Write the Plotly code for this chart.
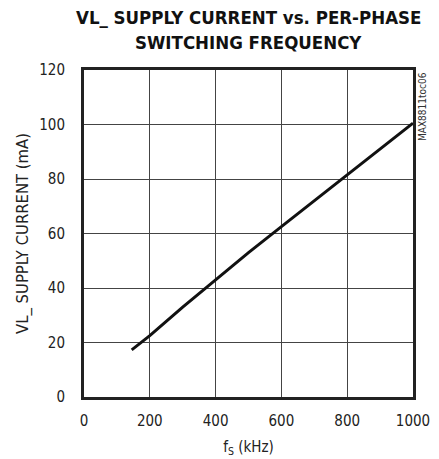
import plotly.graph_objects as go

freq_khz = [145, 200, 300, 400, 500, 600, 700, 800, 900, 1000]
current_ma = [17.3, 22.5, 33.0, 43.0, 53.0, 62.5, 72.0, 81.5, 91.0, 100.5]

x_ticks = [0, 200, 400, 600, 800, 1000]
y_ticks = [0, 20, 40, 60, 80, 100, 120]

title_lines = ["VL_ SUPPLY CURRENT vs. PER-PHASE", "SWITCHING FREQUENCY"]

FONT = "Liberation Sans Narrow, DejaVu Sans Condensed, Arial Narrow, sans-serif"

fig = go.Figure()
fig.add_trace(go.Scatter(x=freq_khz, y=current_ma, mode="lines",
                         line=dict(color="#111111", width=3), showlegend=False))

fig.update_layout(
    width=439, height=459,
    margin=dict(l=84, r=26, t=70, b=62, autoexpand=False),
    paper_bgcolor="white", plot_bgcolor="white",
    font=dict(family=FONT, color="#222222", size=15),
    xaxis=dict(range=[0, 1000], tickvals=x_ticks, ticks="", showgrid=True,
               gridcolor="#444444", gridwidth=1, zeroline=False, automargin=False,
               ticklabelstandoff=8,
               showline=True, linecolor="#222222", linewidth=3, mirror=True,
               title=dict(text="f<sub>S</sub> (kHz)", standoff=13, font=dict(size=15))),
    yaxis=dict(range=[0, 120], tickvals=y_ticks, ticks="", showgrid=True,
               gridcolor="#444444", gridwidth=1, zeroline=False, automargin=False,
               ticklabelstandoff=13,
               showline=True, linecolor="#222222", linewidth=3, mirror=True,
               title=dict(text="VL_ SUPPLY CURRENT (mA)", standoff=7, font=dict(size=16.5))),
)

for line, yp in zip(title_lines, [1.162, 1.083]):
    fig.add_annotation(text="<b>" + line + "</b>", xref="paper", yref="paper",
                       x=0.5, y=yp, xanchor="center", yanchor="middle", showarrow=False,
                       font=dict(family=FONT, size=18.5, color="#111111"))

fig.add_annotation(text="MAX8811toc06", xref="paper", yref="paper", x=1.0, y=1.0,
                   xanchor="left", yanchor="top", xshift=2, showarrow=False, textangle=-90,
                   font=dict(family=FONT, size=10, color="#333333"))

fig.write_html("out.html", config={"displayModeBar": False},
               post_script="document.body.style.margin='0';")
